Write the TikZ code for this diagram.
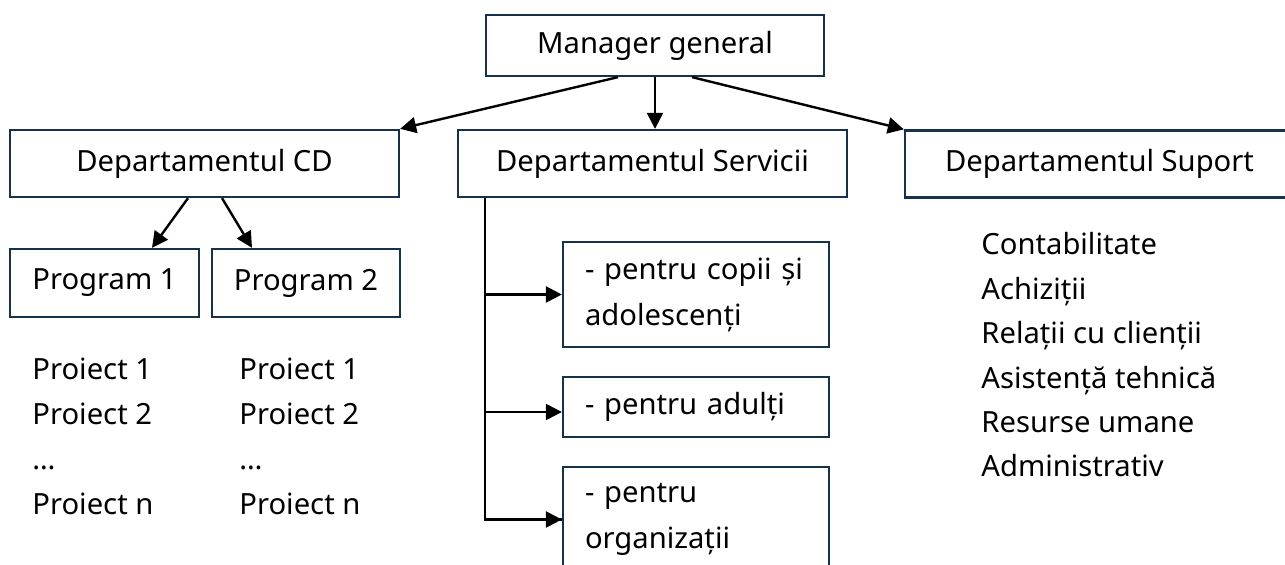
\documentclass[tikz,border=0pt]{standalone}
\usepackage{fontspec}
\setmainfont{Noto Sans}
\usetikzlibrary{arrows.meta,positioning}

\definecolor{boxline}{HTML}{15324A}

\tikzset{
    unitbox/.style={draw=boxline,line width=1.15pt,inner sep=0pt,
        font=\fontsize{14.6}{23}\selectfont},
    subbox/.style={unitbox,text width=111pt,inner xsep=11pt,align=left,
        minimum width=133pt},
    listtext/.style={inner sep=0pt,align=left,anchor=base west},
    link/.style={line width=1.2pt,-{Triangle[length=8pt,width=8pt]}}
}

\begin{document}
\begin{tikzpicture}[x=0.5pt,y=-0.5pt]
    \useasboundingbox (0,0) rectangle (1285,565);
    \clip (0,0) rectangle (1285,565);

    % top of the chart
    \node[unitbox,minimum width=169pt,minimum height=30.5pt] (mgr) at (655,45.5) {Manager general};

    % the three departments
    \node[unitbox,minimum width=194.5pt,minimum height=33.5pt] (cd) at (204.5,163.5) {Departamentul CD};
    \node[unitbox,minimum width=194.5pt,minimum height=33.5pt] (serv) at (652.5,163.5) {Departamentul Servicii};
    \node[unitbox,minimum width=194.5pt,minimum height=33.5pt] (sup) at (1099.5,164) {Departamentul Suport};

    % manager -> departments
    \draw[link] ([shift={(-37,0)}]mgr.south) -- (cd.north east);
    \draw[link] (mgr.south) -- (mgr.south |- serv.north);
    \draw[link] ([shift={(37,0)}]mgr.south) -- (sup.north west);

    % programs under CD
    \node[unitbox,minimum width=94.5pt,minimum height=34pt] (p1) at (104.5,283) {Program 1};
    \node[unitbox,minimum width=94pt,minimum height=34pt] (p2) at (306,283) {Program 2};
    \draw[link] ([shift={(-16.5,0)}]cd.south) -- ([shift={(47.5,0)}]p1.north);
    \draw[link] ([shift={(17.5,0)}]cd.south) -- ([shift={(-54,0)}]p2.north);

    % projects of each program (anchored on the last line)
    \node[listtext,font=\fontsize{14.6}{22.6}\selectfont] (list1) at (32,515) {Proiect 1\\Proiect 2\\…\\Proiect n};
    \node[listtext,font=\fontsize{14.6}{22.6}\selectfont] (list2) at (239,515) {Proiect 1\\Proiect 2\\…\\Proiect n};

    % services
    \node[subbox,minimum height=52.5pt] (s1) at (696,294.5) {- pentru copii și\\adolescenți};
    \node[subbox,minimum height=30pt] (s2) at (696,407) {- pentru adulți};
    \node[subbox,minimum height=52.5pt] (s3) at (696,519.5) {- pentru\\organizații};

    % trunk from Servicii down to the last service
    \coordinate (trunk) at ([shift={(28,0)}]serv.south west);
    \coordinate (s2in) at ([shift={(0,5)}]s2.west);
    \draw[line width=1.2pt] (trunk) |- (s3.west);
    \draw[link] (trunk |- s1.west) -- (s1.west);
    \draw[link] (trunk |- s2in) -- (s2in);
    \draw[link] (trunk |- s3.west) -- (s3.west);

    % support functions
    \node[listtext,font=\fontsize{14.6}{22.2}\selectfont] (list3) at (981,477) {Contabilitate\\Achiziții\\Relații cu clienții\\Asistență tehnică\\Resurse umane\\Administrativ};
\end{tikzpicture}
\end{document}
